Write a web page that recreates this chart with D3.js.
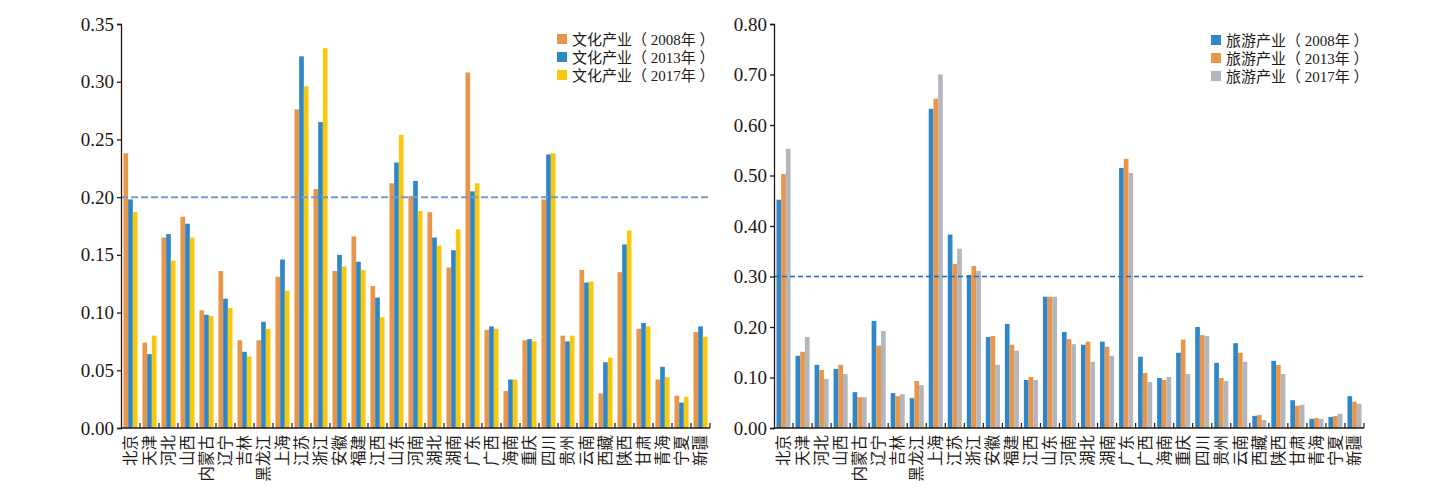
<!DOCTYPE html>
<html>
<head>
<meta charset="utf-8">
<script src="https://cdn.jsdelivr.net/npm/d3@7"></script>
<style>
  body { margin: 0; background: #fff; }
  svg text { font-family: "Liberation Serif", "Noto Sans CJK SC", serif; fill: #231815; }
</style>
</head>
<body>
<svg id="chart" width="1438" height="501"></svg>
<script>
// provinces (same order in both panels)
const provinces = ['北京','天津','河北','山西','内蒙古','辽宁','吉林','黑龙江','上海','江苏','浙江','安徽','福建','江西','山东','河南','湖北','湖南','广东','广西','海南','重庆','四川','贵州','云南','西藏','陕西','甘肃','青海','宁夏','新疆'];

// 文化产业
const culture2008 = [0.238,0.074,0.165,0.183,0.102,0.136,0.076,0.076,0.131,0.276,0.207,0.136,0.166,0.123,0.212,0.201,0.187,0.139,0.308,0.085,0.032,0.076,0.198,0.080,0.137,0.030,0.135,0.086,0.042,0.028,0.083];
const culture2013 = [0.198,0.064,0.168,0.177,0.098,0.112,0.066,0.092,0.146,0.322,0.265,0.150,0.144,0.113,0.230,0.214,0.165,0.154,0.205,0.088,0.042,0.077,0.237,0.075,0.126,0.057,0.159,0.091,0.053,0.022,0.088];
const culture2017 = [0.187,0.080,0.145,0.165,0.097,0.104,0.062,0.086,0.119,0.296,0.329,0.140,0.137,0.096,0.254,0.188,0.158,0.172,0.212,0.086,0.042,0.075,0.238,0.080,0.127,0.061,0.171,0.088,0.044,0.027,0.079];

// 旅游产业
const tourism2008 = [0.452,0.143,0.125,0.117,0.071,0.212,0.069,0.059,0.632,0.383,0.303,0.180,0.206,0.095,0.260,0.190,0.165,0.171,0.515,0.141,0.099,0.149,0.200,0.129,0.168,0.024,0.133,0.055,0.018,0.022,0.063];
const tourism2013 = [0.503,0.151,0.115,0.125,0.061,0.163,0.063,0.093,0.652,0.325,0.321,0.182,0.165,0.101,0.260,0.176,0.171,0.161,0.533,0.109,0.095,0.175,0.184,0.099,0.149,0.026,0.125,0.044,0.020,0.024,0.052];
const tourism2017 = [0.553,0.180,0.097,0.107,0.061,0.192,0.067,0.085,0.700,0.355,0.311,0.125,0.153,0.095,0.260,0.166,0.131,0.143,0.505,0.091,0.101,0.107,0.182,0.093,0.131,0.016,0.107,0.046,0.018,0.028,0.048];

const cultureLabels = ['文化产业（ 2008年 ）','文化产业（ 2013年 ）','文化产业（ 2017年 ）'];
const tourismLabels = ['旅游产业（ 2008年 ）','旅游产业（ 2013年 ）','旅游产业（ 2017年 ）'];

const ORANGE = '#e8964a', BLUE = '#2f87c8', YELLOW = '#f8c80c', GREY = '#b3b6bc';

const svg = d3.select('#chart');

function drawPanel(opt) {
  const g = svg.append('g');
  const x = d3.scaleBand().domain(provinces).range([opt.x0, opt.x1]).paddingInner(0.26).paddingOuter(0.13);
  const y = d3.scaleLinear().domain([0, opt.max]).range([428, 24]);
  const sub = d3.scaleBand().domain(d3.range(3)).range([0, x.bandwidth()]);

  // bars
  opt.series.forEach((vals, s) => {
    g.append('g')
      .selectAll('rect')
      .data(vals)
      .join('rect')
        .attr('x', (d, i) => x(provinces[i]) + sub(s))
        .attr('y', d => y(d))
        .attr('width', sub.bandwidth())
        .attr('height', d => y(0) - y(d))
        .attr('fill', opt.colors[s]);
  });

  // reference line
  g.append('line')
    .attr('x1', opt.x0).attr('x2', opt.x1)
    .attr('y1', y(opt.ref)).attr('y2', y(opt.ref))
    .attr('stroke', opt.refColor)
    .attr('stroke-width', opt.refWidth)
    .attr('stroke-dasharray', opt.refDash);

  // y axis
  const yAxis = g.append('g')
    .attr('transform', `translate(${opt.x0},0)`)
    .call(d3.axisLeft(y).tickValues(d3.range(0, opt.max + 1e-9, opt.step)).tickFormat(d3.format('.2f')).tickSize(4).tickPadding(3));
  yAxis.selectAll('text').attr('font-size', 19).style('fill', '#231815');
  yAxis.selectAll('line, path').attr('stroke', '#231815').attr('stroke-width', 1.3);

  // x axis: line with ticks between categories, pointing up
  g.append('line')
    .attr('x1', opt.x0).attr('x2', opt.x1)
    .attr('y1', y(0)).attr('y2', y(0))
    .attr('stroke', '#231815').attr('stroke-width', 1.5);
  const bounds = d3.range(1, provinces.length + 1).map(i => opt.x0 + (opt.x1 - opt.x0) * i / provinces.length);
  g.append('g')
    .selectAll('line')
    .data(bounds)
    .join('line')
      .attr('x1', d => d).attr('x2', d => d)
      .attr('y1', y(0)).attr('y2', y(0) - 5)
      .attr('stroke', '#231815').attr('stroke-width', 1.2);

  // category labels, rotated, ending at the axis; one tspan per character
  g.append('g')
    .selectAll('text')
    .data(provinces)
    .join('text')
      .attr('transform', p => `translate(${x(p) + x.bandwidth() / 2},${y(0) + 7}) rotate(-90)`)
      .attr('font-size', 15.5)
      .attr('text-anchor', 'end')
      .attr('dy', '0.35em')
      .attr('font-family', '"Noto Sans CJK SC", sans-serif')
    .selectAll('tspan')
    .data(p => Array.from(p))
    .join('tspan')
      .text(c => c);

  // legend
  const leg = g.append('g').attr('transform', `translate(${opt.legX},${opt.legY})`);
  opt.labels.forEach((t, i) => {
    const row = leg.append('g').attr('transform', `translate(0,${i * 18})`);
    row.append('rect').attr('x', 0).attr('y', -5).attr('width', 10).attr('height', 10).attr('fill', opt.colors[i]);
    row.append('text').attr('x', 15).attr('y', 5.5).attr('font-size', 15).text(t);
  });
}

drawPanel({
  x0: 121, x1: 710, max: 0.35, step: 0.05, ref: 0.20,
  series: [culture2008, culture2013, culture2017],
  colors: [ORANGE, BLUE, YELLOW],
  labels: cultureLabels,
  refColor: '#7a9cc2', refWidth: 2, refDash: '7,3',
  legX: 557, legY: 39
});

drawPanel({
  x0: 774, x1: 1364, max: 0.80, step: 0.10, ref: 0.30,
  series: [tourism2008, tourism2013, tourism2017],
  colors: [BLUE, ORANGE, GREY],
  labels: tourismLabels,
  refColor: '#1f6db0', refWidth: 1.3, refDash: '5,3',
  legX: 1211, legY: 40
});
</script>
</body>
</html>
